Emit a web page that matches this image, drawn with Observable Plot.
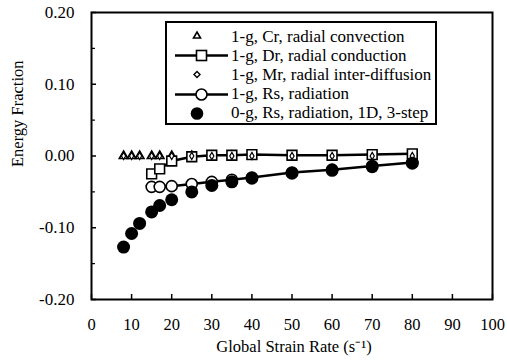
<!DOCTYPE html>
<html><head><meta charset="utf-8">
<script src="https://cdn.jsdelivr.net/npm/d3@7"></script>
<script src="https://cdn.jsdelivr.net/npm/@observablehq/plot@0.6"></script>
<style>
body{margin:0;background:#fff;}
#wrap{position:relative;width:507px;height:363px;font-family:"Liberation Serif",serif;}
#wrap svg text{font-family:"Liberation Serif",serif !important;}
#legend{position:absolute;left:165px;top:21px;width:272px;height:104px;border:2px solid #000;box-sizing:border-box;background:#fff;font-family:"Liberation Serif",serif;}
.row{position:absolute;left:0;height:19px;display:flex;align-items:center;font-size:17px;white-space:nowrap;}
.row svg{flex:none;}
</style></head>
<body><div id="wrap"><div id="legend"></div></div>
<script>
// Data
const xCr = [8,10,12,15,17,20,25,30,35,40,50,60,70,80];
const yCr = [0,0,0,0,0,0,0,0,0,0,0,0,0,0];
const xDr = [15,17,20,25,30,35,40,50,60,70,80];
const yDr = [-0.025,-0.018,-0.007,-0.001,0.001,0.001,0.002,0.001,0.001,0.002,0.003];
const xMr = [8,10,12,15,17,20,25,30,35,40,50,60,70,80];
const yMr = [0,0,0,0,0,0,0,0,0,0,0,0,0,0];
const xRs = [15,17,20,25,30,35,40,50,60,70,80];
const yRs = [-0.043,-0.043,-0.042,-0.039,-0.036,-0.033,-0.030,-0.023,-0.019,-0.014,-0.009];
const x0g = [8,10,12,15,17,20,25,30,35,40,50,60,70,80];
const y0g = [-0.127,-0.108,-0.094,-0.078,-0.069,-0.061,-0.050,-0.041,-0.036,-0.031,-0.024,-0.020,-0.015,-0.010];
const xTicks = [0,10,20,30,40,50,60,70,80,90,100];
const yTicks = [-0.2,-0.1,0,0.1,0.2];
const yMinor = [-0.15,-0.05,0.05,0.15];
const legendLabels = ["1-g, Cr, radial convection","1-g, Dr, radial conduction","1-g, Mr, radial inter-diffusion","1-g, Rs, radiation","0-g, Rs, radiation, 1D, 3-step"];
const xTitle = "Global Strain Rate (s\u207B\u00B9)";
const yTitle = "Energy Fraction";

const zip = (xs, ys) => xs.map((x,i)=>({x, y: ys[i]}));
const cr = zip(xCr,yCr), dr = zip(xDr,yDr), mr = zip(xMr,yMr), rs = zip(xRs,yRs), g0 = zip(x0g,y0g);

const chart = Plot.plot({
  width: 507, height: 363,
  marginLeft: 91, marginRight: 15, marginTop: 12, marginBottom: 64,
  x: {domain: [0,100]},
  y: {domain: [-0.2,0.2]},
  style: {fontFamily: "Liberation Serif, serif", fontSize: "17px", background: "#fff", color: "#000"},
  marks: [
    Plot.axisX({ticks: xTicks, tickSize: -5, tickPadding: 24, tickFormat: d => String(d), label: null, fontSize: 16.5, strokeWidth: 1.5}),
    Plot.axisY({ticks: yTicks, tickSize: -5, tickPadding: 22, tickFormat: d => d.toFixed(2), label: null, fontSize: 17, strokeWidth: 1.5}),
    Plot.axisY({ticks: yMinor, tickSize: -4, tickFormat: () => "", label: null, strokeWidth: 1.2}),
    Plot.frame({stroke: "#000", strokeWidth: 2}),
    Plot.text([xTitle], {frameAnchor: "bottom", dy: 52, dx: 2, fontSize: 16.5}),
    Plot.text([yTitle], {frameAnchor: "left", dx: -74, dy: 11, rotate: -90, fontSize: 16.5}),
    Plot.dot(cr, {x: "x", y: "y", symbol: "triangle", r: 3.2, stroke: "#000", strokeWidth: 1.6, fill: "#fff"}),
    Plot.line(rs, {x: "x", y: "y", stroke: "#000", strokeWidth: 2.5}),
    Plot.dot(rs, {x: "x", y: "y", symbol: "circle", r: 5.5, stroke: "#000", strokeWidth: 1.6, fill: "#fff"}),
    Plot.line(dr, {x: "x", y: "y", stroke: "#000", strokeWidth: 2.5}),
    Plot.dot(dr, {x: "x", y: "y", symbol: "square", r: 5.5, stroke: "#000", strokeWidth: 1.6, fill: "#fff"}),
    Plot.dot(mr, {x: "x", y: "y", symbol: "diamond", r: 2.2, stroke: "#000", strokeWidth: 1.2, fill: "#fff"}),
    Plot.dot(g0, {x: "x", y: "y", symbol: "circle", r: 6.5, fill: "#000", stroke: "none"})
  ]
});
const wrap = document.getElementById("wrap");
chart.style.position = "absolute"; chart.style.left = "0"; chart.style.top = "0";
wrap.insertBefore(chart, wrap.firstChild);

// Legend
const legend = document.getElementById("legend");
const syms = [
  `<polygon points="30,5 33.5,11 26.5,11" fill="#fff" stroke="#000" stroke-width="1.6"/>`,
  `<line x1="8" x2="61" y1="9.5" y2="9.5" stroke="#000" stroke-width="2.5"/><rect x="29.5" y="4.5" width="10" height="10" fill="#fff" stroke="#000" stroke-width="1.6"/>`,
  `<polygon points="30,6.5 33,9.5 30,12.5 27,9.5" fill="#fff" stroke="#000" stroke-width="1.4"/>`,
  `<line x1="8" x2="61" y1="9.5" y2="9.5" stroke="#000" stroke-width="2.5"/><circle cx="34.5" cy="9.5" r="5.5" fill="#fff" stroke="#000" stroke-width="1.6"/>`,
  `<circle cx="30" cy="9.5" r="6.3" fill="#000"/>`
];
legendLabels.forEach((lab, i) => {
  const row = document.createElement("div");
  row.className = "row";
  row.style.top = (4 + i*19.2) + "px";
  row.innerHTML = `<svg width="64" height="19" viewBox="0 0 64 19">${syms[i]}</svg><span>${lab}</span>`;
  legend.appendChild(row);
});
</script></body></html>
